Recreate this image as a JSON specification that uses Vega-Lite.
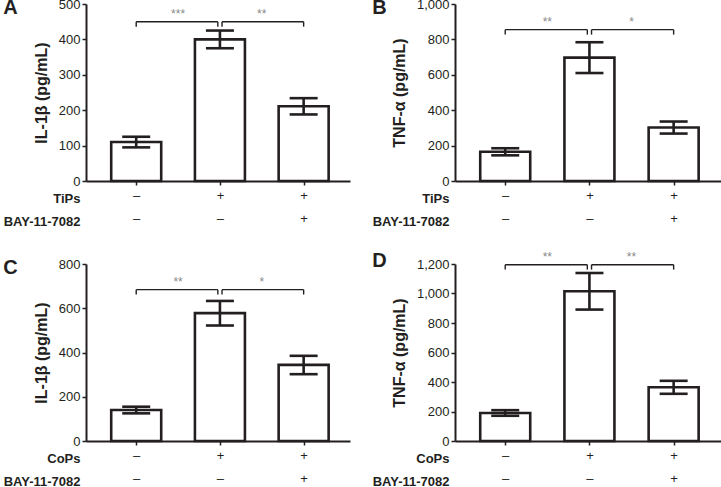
{
  "$schema": "https://vega.github.io/schema/vega-lite/v6.json",
  "padding": {"left": 3, "top": -2, "right": 0, "bottom": 0},
  "config": {
    "font": "Liberation Sans",
    "view": {"stroke": null},
    "axis": {"grid": false, "labelOverlap": false, "domainColor": "#231f20", "domainWidth": 2, "tickColor": "#231f20", "tickWidth": 1.5, "tickSize": 4, "labelFontSize": 13, "labelColor": "#231f20", "titleColor": "#231f20", "titleFontSize": 16, "titleFontWeight": "bold", "labelFont": "Liberation Sans", "titleFont": "Liberation Sans"},
    "title": {"anchor": "start", "frame": "bounds", "fontSize": 20, "fontWeight": "bold", "color": "#231f20", "font": "Liberation Sans", "dy": 24, "offset": 0}
  },
  "datasets": {
    "a": [{"pos": 1, "mean": 110, "lo": 95, "hi": 125}, {"pos": 2, "mean": 400, "lo": 375, "hi": 425}, {"pos": 3, "mean": 211, "lo": 188, "hi": 234}],
    "b": [{"pos": 1, "mean": 165, "lo": 145, "hi": 185}, {"pos": 2, "mean": 697, "lo": 610, "hi": 784}, {"pos": 3, "mean": 302, "lo": 268, "hi": 336}],
    "c": [{"pos": 1, "mean": 140, "lo": 125, "hi": 155}, {"pos": 2, "mean": 578, "lo": 522, "hi": 633}, {"pos": 3, "mean": 344, "lo": 302, "hi": 385}],
    "d": [{"pos": 1, "mean": 190, "lo": 171, "hi": 209}, {"pos": 2, "mean": 1015, "lo": 891, "hi": 1139}, {"pos": 3, "mean": 364, "lo": 320, "hi": 408}],
    "ba": [{"x": 1, "x2": 1.975, "y": 450, "y2": 450}, {"x": 1, "x2": 1, "y": 436, "y2": 450}, {"x": 1.975, "x2": 1.975, "y": 436, "y2": 450}, {"x": 2.025, "x2": 3, "y": 450, "y2": 450}, {"x": 2.025, "x2": 2.025, "y": 436, "y2": 450}, {"x": 3, "x2": 3, "y": 436, "y2": 450}],
    "bb": [{"x": 1, "x2": 1.975, "y": 855, "y2": 855}, {"x": 1, "x2": 1, "y": 827, "y2": 855}, {"x": 1.975, "x2": 1.975, "y": 827, "y2": 855}, {"x": 2.025, "x2": 3, "y": 855, "y2": 855}, {"x": 2.025, "x2": 2.025, "y": 827, "y2": 855}, {"x": 3, "x2": 3, "y": 827, "y2": 855}],
    "bc": [{"x": 1, "x2": 1.975, "y": 684, "y2": 684}, {"x": 1, "x2": 1, "y": 662, "y2": 684}, {"x": 1.975, "x2": 1.975, "y": 662, "y2": 684}, {"x": 2.025, "x2": 3, "y": 684, "y2": 684}, {"x": 2.025, "x2": 2.025, "y": 662, "y2": 684}, {"x": 3, "x2": 3, "y": 662, "y2": 684}],
    "bd": [{"x": 1, "x2": 1.975, "y": 1195, "y2": 1195}, {"x": 1, "x2": 1, "y": 1162, "y2": 1195}, {"x": 1.975, "x2": 1.975, "y": 1162, "y2": 1195}, {"x": 2.025, "x2": 3, "y": 1195, "y2": 1195}, {"x": 2.025, "x2": 2.025, "y": 1162, "y2": 1195}, {"x": 3, "x2": 3, "y": 1162, "y2": 1195}],
    "sa": [{"x": 1.5, "y": 450, "s": "***"}, {"x": 2.5, "y": 450, "s": "**"}],
    "sb": [{"x": 1.5, "y": 855, "s": "**"}, {"x": 2.5, "y": 855, "s": "*"}],
    "sc": [{"x": 1.5, "y": 684, "s": "**"}, {"x": 2.5, "y": 684, "s": "*"}],
    "sd": [{"x": 1.5, "y": 1195, "s": "**"}, {"x": 2.5, "y": 1195, "s": "**"}]
  },
  "spacing": 22,
  "vconcat": [
    {"spacing": 22, "hconcat": [
      {
        "title": "A", "width": 264, "height": 177,
        "layer": [
          {"data": {"name": "a"}, "mark": {"type": "bar", "width": 50, "fill": "white", "stroke": "#231f20", "strokeWidth": 2.6},
           "encoding": {
             "x": {"field": "pos", "type": "quantitative", "scale": {"domain": [0.46, 3.494], "nice": false, "zero": false},
                   "axis": {"values": [1, 2, 3], "labelExpr": "datum.value == 1 ? ['–','–'] : datum.value == 2 ? ['+','–'] : ['+','+']", "labelLineHeight": 23, "labelPadding": 4, "title": ["TiPs", "BAY-11-7082"], "titleFontSize": 13, "titleAlign": "right", "titleAnchor": "start", "titleX": -6, "titleY": 11, "titleBaseline": "top", "titleLineHeight": 23, "titleAngle": 0}},
             "y": {"field": "mean", "type": "quantitative", "stack": null, "scale": {"domain": [0, 500], "nice": false},
                   "axis": {"values": [0, 100, 200, 300, 400, 500], "format": "d", "title": "IL-1β (pg/mL)", "titlePadding": 9}}
           }},
          {"data": {"name": "a"}, "mark": {"type": "rule", "stroke": "#231f20", "strokeWidth": 2.6},
           "encoding": {"x": {"field": "pos", "type": "quantitative"}, "y": {"field": "lo", "type": "quantitative", "axis": {"values": [0, 100, 200, 300, 400, 500], "format": "d", "title": "IL-1β (pg/mL)", "titlePadding": 9}}, "y2": {"field": "hi"}}},
          {"data": {"name": "a"}, "mark": {"type": "tick", "orient": "horizontal", "size": 28, "thickness": 2.6, "color": "#231f20", "opacity": 1},
           "encoding": {"x": {"field": "pos", "type": "quantitative"}, "y": {"field": "hi", "type": "quantitative", "axis": {"values": [0, 100, 200, 300, 400, 500], "format": "d", "title": "IL-1β (pg/mL)", "titlePadding": 9}}}},
          {"data": {"name": "a"}, "mark": {"type": "tick", "orient": "horizontal", "size": 28, "thickness": 2.6, "color": "#231f20", "opacity": 1},
           "encoding": {"x": {"field": "pos", "type": "quantitative"}, "y": {"field": "lo", "type": "quantitative", "axis": {"values": [0, 100, 200, 300, 400, 500], "format": "d", "title": "IL-1β (pg/mL)", "titlePadding": 9}}}},
          {"data": {"name": "ba"}, "mark": {"type": "rule", "stroke": "#231f20", "strokeWidth": 1.4},
           "encoding": {"x": {"field": "x", "type": "quantitative"}, "x2": {"field": "x2"}, "y": {"field": "y", "type": "quantitative", "axis": {"values": [0, 100, 200, 300, 400, 500], "format": "d", "title": "IL-1β (pg/mL)", "titlePadding": 9}}, "y2": {"field": "y2"}}},
          {"data": {"name": "sa"}, "mark": {"type": "text", "fontSize": 12, "color": "#8a8a8a", "baseline": "bottom", "dy": -1},
           "encoding": {"x": {"field": "x", "type": "quantitative"}, "y": {"field": "y", "type": "quantitative", "axis": {"values": [0, 100, 200, 300, 400, 500], "format": "d", "title": "IL-1β (pg/mL)", "titlePadding": 9}}, "text": {"field": "s"}}}
        ]
      },
      {
        "title": "B", "width": 266, "height": 177,
        "layer": [
          {"data": {"name": "b"}, "mark": {"type": "bar", "width": 50, "fill": "white", "stroke": "#231f20", "strokeWidth": 2.6},
           "encoding": {
             "x": {"field": "pos", "type": "quantitative", "scale": {"domain": [0.463, 3.503], "nice": false, "zero": false},
                   "axis": {"values": [1, 2, 3], "labelExpr": "datum.value == 1 ? ['–','–'] : datum.value == 2 ? ['+','–'] : ['+','+']", "labelLineHeight": 23, "labelPadding": 4, "title": ["TiPs", "BAY-11-7082"], "titleFontSize": 13, "titleAlign": "right", "titleAnchor": "start", "titleX": -6, "titleY": 11, "titleBaseline": "top", "titleLineHeight": 23, "titleAngle": 0}},
             "y": {"field": "mean", "type": "quantitative", "stack": null, "scale": {"domain": [0, 1000], "nice": false},
                   "axis": {"values": [0, 200, 400, 600, 800, 1000], "format": ",d", "title": "TNF-α (pg/mL)", "titlePadding": 9}}
           }},
          {"data": {"name": "b"}, "mark": {"type": "rule", "stroke": "#231f20", "strokeWidth": 2.6},
           "encoding": {"x": {"field": "pos", "type": "quantitative"}, "y": {"field": "lo", "type": "quantitative", "axis": {"values": [0, 200, 400, 600, 800, 1000], "format": ",d", "title": "TNF-α (pg/mL)", "titlePadding": 9}}, "y2": {"field": "hi"}}},
          {"data": {"name": "b"}, "mark": {"type": "tick", "orient": "horizontal", "size": 28, "thickness": 2.6, "color": "#231f20", "opacity": 1},
           "encoding": {"x": {"field": "pos", "type": "quantitative"}, "y": {"field": "hi", "type": "quantitative", "axis": {"values": [0, 200, 400, 600, 800, 1000], "format": ",d", "title": "TNF-α (pg/mL)", "titlePadding": 9}}}},
          {"data": {"name": "b"}, "mark": {"type": "tick", "orient": "horizontal", "size": 28, "thickness": 2.6, "color": "#231f20", "opacity": 1},
           "encoding": {"x": {"field": "pos", "type": "quantitative"}, "y": {"field": "lo", "type": "quantitative", "axis": {"values": [0, 200, 400, 600, 800, 1000], "format": ",d", "title": "TNF-α (pg/mL)", "titlePadding": 9}}}},
          {"data": {"name": "bb"}, "mark": {"type": "rule", "stroke": "#231f20", "strokeWidth": 1.4},
           "encoding": {"x": {"field": "x", "type": "quantitative"}, "x2": {"field": "x2"}, "y": {"field": "y", "type": "quantitative", "axis": {"values": [0, 200, 400, 600, 800, 1000], "format": ",d", "title": "TNF-α (pg/mL)", "titlePadding": 9}}, "y2": {"field": "y2"}}},
          {"data": {"name": "sb"}, "mark": {"type": "text", "fontSize": 12, "color": "#8a8a8a", "baseline": "bottom", "dy": -1},
           "encoding": {"x": {"field": "x", "type": "quantitative"}, "y": {"field": "y", "type": "quantitative", "axis": {"values": [0, 200, 400, 600, 800, 1000], "format": ",d", "title": "TNF-α (pg/mL)", "titlePadding": 9}}, "text": {"field": "s"}}}
        ]
      }
    ]},
    {"spacing": 22, "hconcat": [
      {
        "title": "C", "width": 264, "height": 177,
        "layer": [
          {"data": {"name": "c"}, "mark": {"type": "bar", "width": 50, "fill": "white", "stroke": "#231f20", "strokeWidth": 2.6},
           "encoding": {
             "x": {"field": "pos", "type": "quantitative", "scale": {"domain": [0.46, 3.494], "nice": false, "zero": false},
                   "axis": {"values": [1, 2, 3], "labelExpr": "datum.value == 1 ? ['–','–'] : datum.value == 2 ? ['+','–'] : ['+','+']", "labelLineHeight": 23, "labelPadding": 4, "title": ["CoPs", "BAY-11-7082"], "titleFontSize": 13, "titleAlign": "right", "titleAnchor": "start", "titleX": -6, "titleY": 11, "titleBaseline": "top", "titleLineHeight": 23, "titleAngle": 0}},
             "y": {"field": "mean", "type": "quantitative", "stack": null, "scale": {"domain": [0, 800], "nice": false},
                   "axis": {"values": [0, 200, 400, 600, 800], "format": "d", "title": "IL-1β (pg/mL)", "titlePadding": 9}}
           }},
          {"data": {"name": "c"}, "mark": {"type": "rule", "stroke": "#231f20", "strokeWidth": 2.6},
           "encoding": {"x": {"field": "pos", "type": "quantitative"}, "y": {"field": "lo", "type": "quantitative", "axis": {"values": [0, 200, 400, 600, 800], "format": "d", "title": "IL-1β (pg/mL)", "titlePadding": 9}}, "y2": {"field": "hi"}}},
          {"data": {"name": "c"}, "mark": {"type": "tick", "orient": "horizontal", "size": 28, "thickness": 2.6, "color": "#231f20", "opacity": 1},
           "encoding": {"x": {"field": "pos", "type": "quantitative"}, "y": {"field": "hi", "type": "quantitative", "axis": {"values": [0, 200, 400, 600, 800], "format": "d", "title": "IL-1β (pg/mL)", "titlePadding": 9}}}},
          {"data": {"name": "c"}, "mark": {"type": "tick", "orient": "horizontal", "size": 28, "thickness": 2.6, "color": "#231f20", "opacity": 1},
           "encoding": {"x": {"field": "pos", "type": "quantitative"}, "y": {"field": "lo", "type": "quantitative", "axis": {"values": [0, 200, 400, 600, 800], "format": "d", "title": "IL-1β (pg/mL)", "titlePadding": 9}}}},
          {"data": {"name": "bc"}, "mark": {"type": "rule", "stroke": "#231f20", "strokeWidth": 1.4},
           "encoding": {"x": {"field": "x", "type": "quantitative"}, "x2": {"field": "x2"}, "y": {"field": "y", "type": "quantitative", "axis": {"values": [0, 200, 400, 600, 800], "format": "d", "title": "IL-1β (pg/mL)", "titlePadding": 9}}, "y2": {"field": "y2"}}},
          {"data": {"name": "sc"}, "mark": {"type": "text", "fontSize": 12, "color": "#8a8a8a", "baseline": "bottom", "dy": -1},
           "encoding": {"x": {"field": "x", "type": "quantitative"}, "y": {"field": "y", "type": "quantitative", "axis": {"values": [0, 200, 400, 600, 800], "format": "d", "title": "IL-1β (pg/mL)", "titlePadding": 9}}, "text": {"field": "s"}}}
        ]
      },
      {
        "title": "D", "width": 266, "height": 177,
        "layer": [
          {"data": {"name": "d"}, "mark": {"type": "bar", "width": 50, "fill": "white", "stroke": "#231f20", "strokeWidth": 2.6},
           "encoding": {
             "x": {"field": "pos", "type": "quantitative", "scale": {"domain": [0.463, 3.503], "nice": false, "zero": false},
                   "axis": {"values": [1, 2, 3], "labelExpr": "datum.value == 1 ? ['–','–'] : datum.value == 2 ? ['+','–'] : ['+','+']", "labelLineHeight": 23, "labelPadding": 4, "title": ["CoPs", "BAY-11-7082"], "titleFontSize": 13, "titleAlign": "right", "titleAnchor": "start", "titleX": -6, "titleY": 11, "titleBaseline": "top", "titleLineHeight": 23, "titleAngle": 0}},
             "y": {"field": "mean", "type": "quantitative", "stack": null, "scale": {"domain": [0, 1200], "nice": false},
                   "axis": {"values": [0, 200, 400, 600, 800, 1000, 1200], "format": ",d", "title": "TNF-α (pg/mL)", "titlePadding": 9}}
           }},
          {"data": {"name": "d"}, "mark": {"type": "rule", "stroke": "#231f20", "strokeWidth": 2.6},
           "encoding": {"x": {"field": "pos", "type": "quantitative"}, "y": {"field": "lo", "type": "quantitative", "axis": {"values": [0, 200, 400, 600, 800, 1000, 1200], "format": ",d", "title": "TNF-α (pg/mL)", "titlePadding": 9}}, "y2": {"field": "hi"}}},
          {"data": {"name": "d"}, "mark": {"type": "tick", "orient": "horizontal", "size": 28, "thickness": 2.6, "color": "#231f20", "opacity": 1},
           "encoding": {"x": {"field": "pos", "type": "quantitative"}, "y": {"field": "hi", "type": "quantitative", "axis": {"values": [0, 200, 400, 600, 800, 1000, 1200], "format": ",d", "title": "TNF-α (pg/mL)", "titlePadding": 9}}}},
          {"data": {"name": "d"}, "mark": {"type": "tick", "orient": "horizontal", "size": 28, "thickness": 2.6, "color": "#231f20", "opacity": 1},
           "encoding": {"x": {"field": "pos", "type": "quantitative"}, "y": {"field": "lo", "type": "quantitative", "axis": {"values": [0, 200, 400, 600, 800, 1000, 1200], "format": ",d", "title": "TNF-α (pg/mL)", "titlePadding": 9}}}},
          {"data": {"name": "bd"}, "mark": {"type": "rule", "stroke": "#231f20", "strokeWidth": 1.4},
           "encoding": {"x": {"field": "x", "type": "quantitative"}, "x2": {"field": "x2"}, "y": {"field": "y", "type": "quantitative", "axis": {"values": [0, 200, 400, 600, 800, 1000, 1200], "format": ",d", "title": "TNF-α (pg/mL)", "titlePadding": 9}}, "y2": {"field": "y2"}}},
          {"data": {"name": "sd"}, "mark": {"type": "text", "fontSize": 12, "color": "#8a8a8a", "baseline": "bottom", "dy": -1},
           "encoding": {"x": {"field": "x", "type": "quantitative"}, "y": {"field": "y", "type": "quantitative", "axis": {"values": [0, 200, 400, 600, 800, 1000, 1200], "format": ",d", "title": "TNF-α (pg/mL)", "titlePadding": 9}}, "text": {"field": "s"}}}
        ]
      }
    ]}
  ]
}
